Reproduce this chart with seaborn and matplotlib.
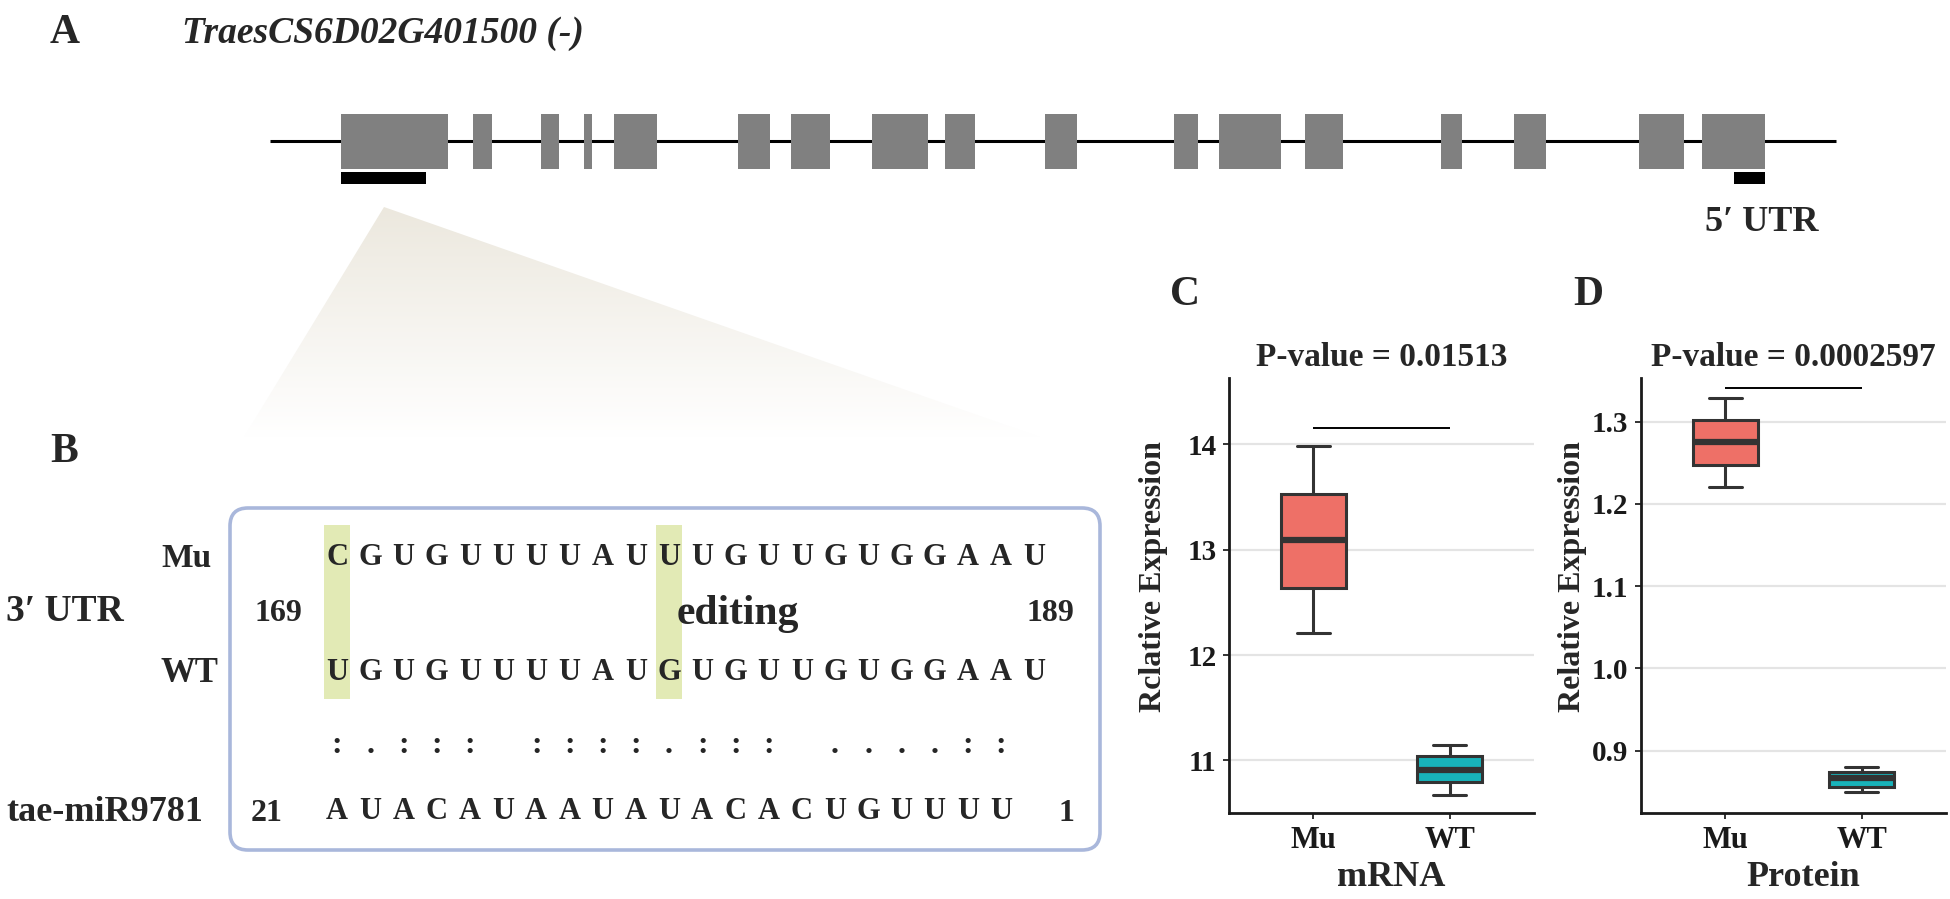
import numpy as np
import pandas as pd
import matplotlib
matplotlib.use('Agg')
import matplotlib.pyplot as plt
import seaborn as sns
from matplotlib.patches import Rectangle, Polygon, FancyBboxPatch

sns.set_theme(style='white')
plt.rcParams['font.family'] = ['Liberation Serif', 'DejaVu Serif']
plt.rcParams['font.weight'] = 'bold'

W, H = 1950, 899

# ---------------- data ----------------
gene_name = 'TraesCS6D02G401500 (-)'
gene_span = [270, 1836]
exon_starts = [341, 473, 541, 584, 614, 738, 791, 872, 945, 1045, 1174, 1219, 1305, 1441, 1514, 1639, 1702]
exon_ends = [448, 492, 559, 592, 657, 770, 830, 928, 975, 1077, 1198, 1281, 1343, 1462, 1546, 1684, 1765]
site_starts = [341, 1734]
site_ends = [426, 1765]
utr5_label = '5\u2032 UTR'

mu_seq = 'CGUGUUUUAUUUGUUGUGGAAU'
wt_seq = 'UGUGUUUUAUGUGUUGUGGAAU'
pair_marks = [':', '.', ':', ':', ':', ' ', ':', ':', ':', ':', '.', ':', ':', ':', ' ',
              '.', '.', '.', '.', ':', ':']
mir_seq = 'AUACAUAAUAUACACUGUUUU'
edited_index = [0, 10]
utr_start, utr_end = '169', '189'
mir_start, mir_end = '21', '1'

groups = ['Mu', 'WT']
mrna_mu = [12.21, 12.64, 13.09, 13.53, 13.98]
mrna_wt = [10.67, 10.79, 10.91, 11.04, 11.15]
prot_mu = [1.220, 1.247, 1.275, 1.302, 1.329]
prot_wt = [0.849, 0.856, 0.867, 0.874, 0.880]
p_mrna = 'P-value = 0.01513'
p_prot = 'P-value = 0.0002597'
bracket_mrna = 14.16
bracket_prot = 1.341
mrna_ticks = [11, 12, 13, 14]
prot_ticks = [0.9, 1.0, 1.1, 1.2, 1.3]
prot_ticklabels = ['0.9', '1.0', '1.1', '1.2', '1.3']

box_colors = {'Mu': '#EE7067', 'WT': '#18B3BA'}

# ---------------- figure ----------------
fig = plt.figure(figsize=(W / 100, H / 100), dpi=100)
ax0 = fig.add_axes([0, 0, 1, 1])
ax0.set_xlim(0, W)
ax0.set_ylim(H, 0)
ax0.axis('off')

def fx(x):
    return x / W

def fy(y):
    return 1 - y / H

serif = ['Liberation Serif', 'DejaVu Serif']

# panel A: gene model
ax0.plot(gene_span, [141, 141], color='black', lw=2.2, zorder=2, solid_capstyle='butt')
for s, e in zip(exon_starts, exon_ends):
    ax0.add_patch(Rectangle((s, 114), e - s, 55, facecolor='#808080', edgecolor='none', zorder=3))
for s, e in zip(site_starts, site_ends):
    ax0.add_patch(Rectangle((s, 172), e - s, 12, facecolor='black', edgecolor='none', zorder=3))

ax0.text(50, 43, 'A', fontsize=30, fontweight='bold', family=serif, va='baseline', ha='left')
ax0.text(182, 43, gene_name, fontsize=27, fontweight='bold', fontstyle='italic', family=serif,
         va='baseline', ha='left')
ax0.text(1762, 231, utr5_label, fontsize=26, fontweight='bold', family=serif, va='baseline', ha='center')

# zoom wedge with gradient
tri_xy = np.array([[384, 207], [244, 437], [1040, 437]])
tri = Polygon(tri_xy, closed=True, facecolor='none', edgecolor='none')
ax0.add_patch(tri)
g = np.linspace(0, 1, 256)[:, None, None]
top_c = np.array([236, 232, 222]) / 255.0
img = top_c[None, None, :] * (1 - g) + np.ones(3)[None, None, :] * g
img = np.repeat(img, 4, axis=1)
im = ax0.imshow(img, extent=(244, 1040, 437, 207), aspect='auto', zorder=1, interpolation='bilinear')
im.set_clip_path(tri)
ax0.set_xlim(0, W)
ax0.set_ylim(H, 0)

# panel B
ax0.text(50, 462, 'B', fontsize=30, fontweight='bold', family=serif, va='baseline', ha='left')
ax0.add_patch(FancyBboxPatch((230, 508), 870, 342, boxstyle='round,pad=0,rounding_size=18',
                             facecolor='none', edgecolor='#A9B7DB', lw=2.6, zorder=3))
pitch = 33.2
x0 = 337
for k in edited_index:
    ax0.add_patch(Rectangle((x0 + k * pitch - 13, 525), 26, 174, facecolor='#E2EAB5',
                            edgecolor='none', zorder=2))
for i, ch in enumerate(mu_seq):
    ax0.text(x0 + i * pitch, 565, ch, fontsize=22, fontweight='bold', family=serif,
             ha='center', va='baseline', zorder=4)
for i, ch in enumerate(wt_seq):
    ax0.text(x0 + i * pitch, 680, ch, fontsize=22, fontweight='bold', family=serif,
             ha='center', va='baseline', zorder=4)
for i, ch in enumerate(pair_marks):
    ax0.text(x0 + i * pitch, 753, ch, fontsize=23, fontweight='bold', family=serif,
             ha='center', va='baseline', zorder=4)
for i, ch in enumerate(mir_seq):
    ax0.text(x0 + i * pitch, 819, ch, fontsize=22, fontweight='bold', family=serif,
             ha='center', va='baseline', zorder=4)

ax0.text(212, 567, 'Mu', fontsize=24, fontweight='bold', family=serif, ha='right', va='baseline')
ax0.text(218, 682, 'WT', fontsize=25, fontweight='bold', family=serif, ha='right', va='baseline')
ax0.text(6, 621, '3\u2032 UTR', fontsize=27, fontweight='bold', family=serif, ha='left', va='baseline')
ax0.text(6, 821, 'tae-miR9781', fontsize=26, fontweight='bold', family=serif, ha='left', va='baseline')
ax0.text(278, 621, utr_start, fontsize=23, fontweight='bold', family=serif, ha='center', va='baseline')
ax0.text(1050, 621, utr_end, fontsize=23, fontweight='bold', family=serif, ha='center', va='baseline')
ax0.text(267, 821, mir_start, fontsize=23, fontweight='bold', family=serif, ha='center', va='baseline')
ax0.text(1066, 821, mir_end, fontsize=23, fontweight='bold', family=serif, ha='center', va='baseline')
ax0.text(677, 624, 'editing', fontsize=30, fontweight='bold', family=serif, ha='left', va='baseline')

# panels C and D
def box_panel(rect, mu, wt, ticks, ticklabels, ylim, bracket, ptxt, ylabel, xlabel,
              letter, letter_x, ylab_off):
    ax = fig.add_axes(rect)
    df = pd.DataFrame({'group': ['Mu'] * len(mu) + ['WT'] * len(wt), 'value': list(mu) + list(wt)})
    ax.yaxis.grid(True, color='#E4E4E4', lw=1.6)
    ax.set_axisbelow(True)
    sns.boxplot(data=df, x='group', y='value', hue='group', order=groups, hue_order=groups,
                palette=box_colors, width=0.48, linewidth=2.2, linecolor='#333333',
                showfliers=False, whis=1.5, legend=False, saturation=1,
                medianprops=dict(linewidth=4.5, color='#333333'), ax=ax)
    ax.hlines(bracket, 0, 1, color='black', lw=1.4)
    ax.set_xlim(-0.62, 1.62)
    ax.set_ylim(*ylim)
    ax.set_yticks(ticks)
    ax.set_yticklabels(ticklabels)
    for sp in ['top', 'right']:
        ax.spines[sp].set_visible(False)
    for sp in ['left', 'bottom']:
        ax.spines[sp].set_color('#1A1A1A')
        ax.spines[sp].set_linewidth(2.0)
    ax.tick_params(axis='both', which='major', length=4, width=1.4, color='#333333',
                   labelsize=21, pad=5, left=True, bottom=True)
    for lab in ax.get_xticklabels() + ax.get_yticklabels():
        lab.set_fontweight('bold')
        lab.set_family(serif)
        lab.set_color('#1A1A1A')
    ax.tick_params(axis='x', labelsize=22)
    ax.set_xlabel('')
    ax.set_ylabel('')
    ax.set_facecolor('none')
    ax.text(0.5, 1 + 21 / 435, ptxt, transform=ax.transAxes, ha='center', va='center',
            fontsize=24, fontweight='bold', family=serif)
    l, b, w, h = rect
    fig.text(l - ylab_off / W, fy(577), ylabel, rotation=90, ha='center', va='center',
             fontsize=23, fontweight='bold', family=serif)
    fig.text(l + w / 2 + 10 / W, fy(877), xlabel, ha='center', va='center', fontsize=26,
             fontweight='bold', family=serif)
    fig.text(fx(letter_x), fy(305), letter, ha='center', va='baseline', fontsize=30,
             fontweight='bold', family=serif)
    return ax

axC = box_panel([fx(1229), fy(813), 305 / W, 435 / H], mrna_mu, mrna_wt, mrna_ticks,
                [str(t) for t in mrna_ticks], (10.50, 14.63), bracket_mrna, p_mrna,
                'Rclative Expression', 'mRNA', 'C', 1185, 76)
axD = box_panel([fx(1641), fy(813), 305 / W, 435 / H], prot_mu, prot_wt, prot_ticks,
                prot_ticklabels, (0.824, 1.353), bracket_prot, p_prot,
                'Relative Expression', 'Protein', 'D', 1588, 69)

fig.savefig('out.png', dpi=100, facecolor='white')
